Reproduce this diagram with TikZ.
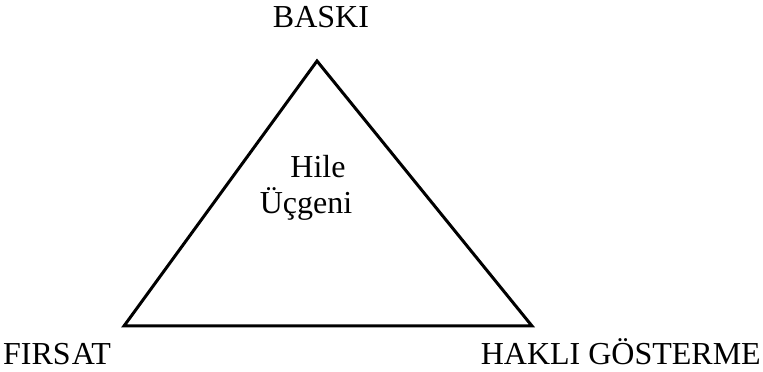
\documentclass[tikz,border=0pt]{standalone}
\usepackage{fontspec}
\setmainfont{Liberation Serif}
\usetikzlibrary{positioning}

\tikzset{lbl/.style={inner sep=0pt, font=\fontsize{32}{38}\selectfont}}

\begin{document}
\begin{tikzpicture}[x=1pt,y=1pt]
\useasboundingbox (0,0) rectangle (763,372);

\coordinate (top) at (317,311);
\coordinate (left) at (124,46);
\coordinate (right) at (532,46);

\draw[line width=3pt, line join=miter] (top) -- (right) -- (left) -- cycle;

\node[lbl, anchor=base] (baski) at (321,344) {BASKI};
\node[lbl, anchor=base west] (firsat) at (3,7) {FIRS\kern1ptAT};
\node[lbl, anchor=base east] (hakli) at (761,7) {HAKLI GÖSTERME};

\node[lbl, anchor=base] (hile) at (318,194) {Hile};
\node[lbl, anchor=base] (ucgen) at (306,158) {Üçgeni};

\end{tikzpicture}
\end{document}
